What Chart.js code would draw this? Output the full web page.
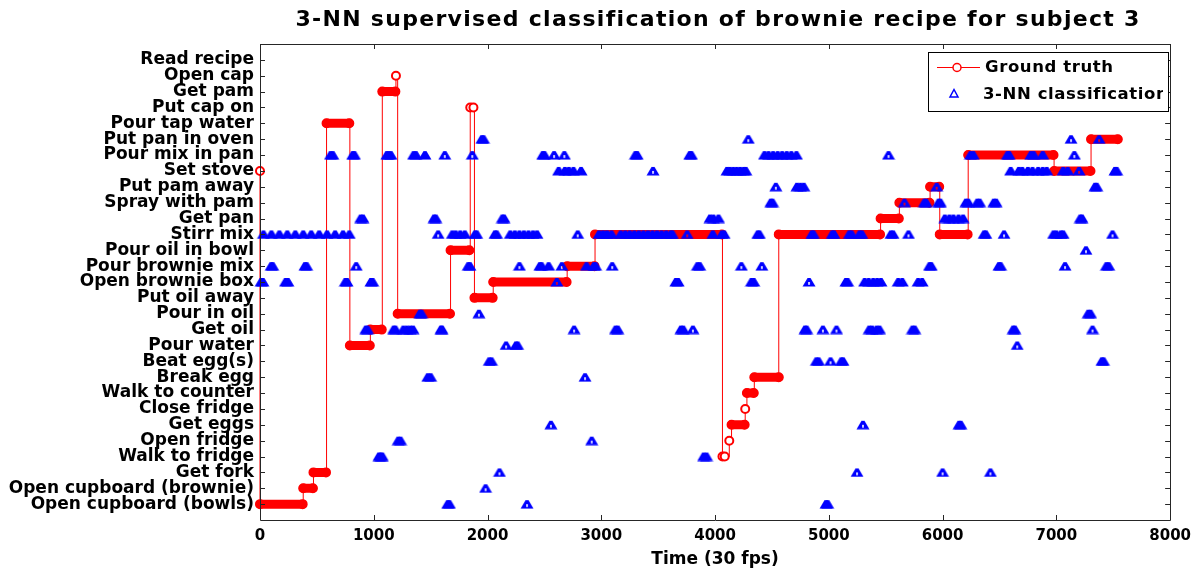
<!DOCTYPE html>
<html>
<head>
<meta charset="utf-8">
<script src="https://cdn.jsdelivr.net/npm/chart.js@4.4.0/dist/chart.umd.min.js"></script>
<style>
  html, body { margin: 0; padding: 0; background: #fff; }
  #wrap { width: 1198px; height: 573px; position: relative; }
</style>
</head>
<body>
<div id="wrap"><canvas id="chart"></canvas></div>
<script>
// activity names, class 1 at the bottom
const activities = [
  'Open cupboard (bowls)', 'Open cupboard (brownie)', 'Get fork', 'Walk to fridge',
  'Open fridge', 'Get eggs', 'Close fridge', 'Walk to counter', 'Break egg',
  'Beat egg(s)', 'Pour water', 'Get oil', 'Pour in oil', 'Put oil away',
  'Open brownie box', 'Pour brownie mix', 'Pour oil in bowl', 'Stirr mix',
  'Get pan', 'Spray with pam', 'Put pam away', 'Set stove', 'Pour mix in pan',
  'Put pan in oven', 'Pour tap water', 'Put cap on', 'Get pam', 'Open cap', 'Read recipe'
];
const xTicks = [0, 1000, 2000, 3000, 4000, 5000, 6000, 7000, 8000];

// ground truth segments (frames) and class
const gtStart = [0, 0, 380, 470, 585, 790, 970, 1075, 1195, 1210, 1675, 1848, 1885, 2050, 2700, 2945, 4065, 4125, 4145, 4265, 4280, 4345, 4560, 5455, 5620, 5890, 5975, 6225, 6980, 7305];
const gtEnd   = [0, 375, 465, 580, 785, 965, 1070, 1190, 1195, 1670, 1840, 1876, 2045, 2695, 2940, 4060, 4085, 4125, 4260, 4265, 4340, 4560, 5450, 5615, 5885, 5970, 6220, 6975, 7300, 7540];
const gtClass = [22, 1, 2, 3, 25, 11, 12, 27, 28, 13, 17, 26, 14, 15, 16, 18, 4, 5, 6, 7, 8, 9, 18, 19, 20, 21, 18, 23, 22, 24];

// 3-NN classified frames, one list per class (index = class - 1)
const nnFramesByClass = [
  [1650, 1665, 2347, 4975, 4990],                                   // Open cupboard (bowls)
  [1983],                                                           // Open cupboard (brownie)
  [2105, 5248, 6000, 6420],                                         // Get fork
  [1045, 1060, 1075, 3900, 3925],                                   // Walk to fridge
  [1215, 1235, 2916],                                               // Open fridge
  [2557, 5300, 6145, 6160],                                         // Get eggs
  [],                                                               // Close fridge
  [],                                                               // Walk to counter
  [1475, 1500, 2857],                                               // Break egg
  [2015, 2035, 4890, 4910, 5015, 5110, 5125, 7400, 7415],           // Beat egg(s)
  [2163, 2250, 2265, 6656],                                         // Pour water
  [930, 945, 1175, 1190, 1260, 1290, 1320, 1345, 1590, 1600, 2761, 3125, 3145, 3700, 3720, 3805,
   4790, 4805, 4948, 5067, 5355, 5380, 5420, 5445, 5735, 5755, 6620, 6635, 7318], // Get oil
  [1405, 1420, 1924, 7280, 7300],                                   // Pour in oil
  [],                                                               // Put oil away
  [10, 25, 225, 245, 750, 765, 975, 990, 2609, 3655, 3675, 4320, 4340, 4826, 5150, 5165,
   5315, 5350, 5390, 5425, 5458, 5610, 5645, 5785, 5820],            // Open brownie box
  [98, 112, 395, 410, 846, 1830, 1845, 2280, 2460, 2475, 2537, 2653, 2870, 2935, 2950, 3096,
   3845, 3865, 4231, 4411, 5885, 5900, 6495, 6510, 7076, 7440, 7460], // Pour brownie mix
  [7260],                                                           // Pour oil in bowl
  [30, 100, 170, 240, 310, 380, 450, 520, 590, 660, 730, 785, 1566, 1690, 1720, 1760, 1800,
   1890, 1905, 2065, 2080, 2200, 2240, 2280, 2320, 2360, 2400, 2435, 2793, 2980, 3015, 3050,
   3090, 3170, 3210, 3250, 3290, 3330, 3370, 3410, 3450, 3490, 3530, 3570, 3610, 3625, 3755,
   3980, 4060, 4080, 4375, 4390, 4850, 4865, 5030, 5045, 5180, 5200, 5270, 5290, 5545, 5565,
   5700, 6365, 6380, 6540, 6975, 7000, 7040, 7060, 7494],            // Stirr mix
  [885, 905, 1530, 1545, 2130, 2145, 3955, 3985, 4030, 6020, 6060, 6095, 6140, 6180, 7210, 7225], // Get pan
  [4490, 4505, 5665, 5840, 5855, 5965, 5980, 6205, 6225, 6305, 6325, 6450, 6470], // Spray with pam
  [4534, 4720, 4750, 4780, 5948, 7340, 7355],                       // Put pam away
  [2625, 2680, 2715, 2755, 2822, 3455, 4105, 4130, 4160, 4190, 4220, 4250, 4270, 6598, 6670,
   6700, 6750, 6790, 6840, 6880, 6915, 7060, 7100, 7200, 7515, 7530], // Set stove
  [620, 640, 815, 830, 1115, 1130, 1150, 1350, 1370, 1450, 1624, 1866, 2485, 2500, 2585, 2675,
   3300, 3315, 3778, 3792, 4435, 4470, 4510, 4550, 4590, 4630, 4670, 4715, 5525, 6245, 6270,
   6570, 6585, 6775, 6800, 6880, 7158],                              // Pour mix in pan
  [1950, 1965, 4292, 7129, 7376],                                   // Put pan in oven
  [], [], [], [], []                                                // Pour tap water .. Read recipe
];

const RED = '#ff0000';
const BLUE = '#0000ff';
const FONT = "'DejaVu Sans', sans-serif";

// thin step line through every segment, hollow circle markers
const gtLine = [];
const gtBand = [];
for (let i = 0; i < gtStart.length; i++) {
  gtLine.push({ x: gtStart[i], y: gtClass[i] });
  if (gtEnd[i] !== gtStart[i]) gtLine.push({ x: gtEnd[i], y: gtClass[i] });
  // long runs of markers merge into a solid band
  if (gtEnd[i] - gtStart[i] > 40) {
    gtBand.push({ x: gtStart[i], y: gtClass[i] });
    gtBand.push({ x: gtEnd[i], y: gtClass[i] });
    gtBand.push({ x: gtEnd[i], y: null });
  }
}

// a classified frame with a neighbour close by is part of a solid run
const nnPoints = [];
nnFramesByClass.forEach(function(frames, k) {
  frames.forEach(function(f) {
    const crowded = frames.some(function(g) { return g !== f && Math.abs(g - f) <= 80; });
    nnPoints.push({ x: f, y: k + 1, crowded: crowded });
  });
});

// heavy triangle marker; the open one keeps a small slit inside
function triangleMarker(open) {
  const c = document.createElement('canvas');
  c.width = 14; c.height = 10;
  const g = c.getContext('2d');
  g.fillStyle = BLUE;
  g.beginPath();
  g.moveTo(5.5, 1); g.lineTo(8.5, 1); g.lineTo(13.5, 9.5); g.lineTo(0.5, 9.5); g.closePath();
  g.fill();
  if (open) {
    g.globalCompositeOperation = 'destination-out';
    g.fillRect(6.2, 5, 1.6, 2.8);
  }
  return c;
}
const triOpen = triangleMarker(true);
const triSolid = triangleMarker(false);

// box, inward ticks, title and legend drawn like the original figure
const framePlugin = {
  id: 'frame',
  afterDraw(chart) {
    const ctx = chart.ctx;
    const a = chart.chartArea;
    const xs = chart.scales.x, ys = chart.scales.y;
    ctx.save();
    ctx.strokeStyle = '#262626';
    ctx.lineWidth = 1;
    ctx.beginPath();
    ctx.rect(Math.round(a.left) + 0.5, Math.round(a.top) + 0.5, Math.round(a.right - a.left), Math.round(a.bottom - a.top));
    ctx.stroke();
    const tl = 5;
    ctx.beginPath();
    xTicks.forEach(function(v) {
      const px = Math.round(xs.getPixelForValue(v)) + 0.5;
      ctx.moveTo(px, a.bottom); ctx.lineTo(px, a.bottom - tl);
      ctx.moveTo(px, a.top); ctx.lineTo(px, a.top + tl);
    });
    for (let k = 1; k <= activities.length; k++) {
      const py = Math.round(ys.getPixelForValue(k)) + 0.5;
      ctx.moveTo(a.left, py); ctx.lineTo(a.left + tl, py);
      ctx.moveTo(a.right, py); ctx.lineTo(a.right - tl, py);
    }
    ctx.stroke();

    // title
    ctx.fillStyle = '#000';
    ctx.font = 'bold 22px ' + FONT;
    ctx.textAlign = 'center';
    ctx.textBaseline = 'middle';
    ctx.letterSpacing = '1.3px';
    ctx.fillText('3-NN supervised classification of brownie recipe for subject 3', (a.left + a.right) / 2 + 3, 20);
    ctx.letterSpacing = '0px';

    // legend box in the upper right corner
    const bx = 928, by = 52, bw = 240, bh = 59;
    ctx.fillStyle = '#fff';
    ctx.fillRect(bx, by, bw, bh);
    ctx.strokeStyle = '#000';
    ctx.strokeRect(bx + 0.5, by + 0.5, bw, bh);
    ctx.beginPath();
    ctx.rect(bx + 1, by + 1, bw - 6, bh - 1);
    ctx.clip();
    ctx.strokeStyle = RED;
    ctx.lineWidth = 1;
    ctx.beginPath();
    ctx.moveTo(937, 67.5); ctx.lineTo(980, 67.5);
    ctx.stroke();
    ctx.lineWidth = 1.5;
    ctx.beginPath();
    ctx.arc(957, 67.5, 4, 0, Math.PI * 2);
    ctx.fillStyle = '#fff';
    ctx.fill();
    ctx.stroke();
    // legend marker: plain open triangle
    ctx.strokeStyle = BLUE;
    ctx.lineWidth = 1.5;
    ctx.beginPath();
    ctx.moveTo(954, 89.5); ctx.lineTo(950, 97); ctx.lineTo(958, 97); ctx.closePath();
    ctx.stroke();
    ctx.fillStyle = '#000';
    ctx.font = 'bold 16.5px ' + FONT;
    ctx.textAlign = 'left';
    ctx.letterSpacing = '0.6px';
    ctx.fillText('Ground truth', 985, 68);
    ctx.fillText('3-NN classification', 983, 95);
    ctx.restore();
  }
};

new Chart(document.getElementById('chart'), {
  type: 'scatter',
  data: {
    datasets: [
      {
        label: 'Ground truth',
        data: gtLine,
        showLine: true,
        stepped: 'before',
        borderColor: RED,
        borderWidth: 1,
        pointStyle: 'circle',
        pointRadius: 4,
        pointBorderWidth: 2,
        pointBorderColor: RED,
        pointBackgroundColor: '#fff',
        clip: false,
        order: 3
      },
      {
        label: 'gt band',
        data: gtBand,
        showLine: true,
        spanGaps: false,
        borderColor: RED,
        borderWidth: 9,
        borderCapStyle: 'round',
        pointRadius: 0,
        clip: false,
        order: 2
      },
      {
        label: '3-NN classification',
        data: nnPoints,
        pointStyle: function(c) {
          const p = nnPoints[c.dataIndex];
          return p && p.crowded ? triSolid : triOpen;
        },
        pointRadius: 5,
        clip: false,
        order: 1
      }
    ]
  },
  options: {
    responsive: true,
    maintainAspectRatio: false,
    animation: false,
    events: [],
    layout: { padding: { top: 44, right: 24, left: 0, bottom: 0 } },
    plugins: {
      legend: { display: false },
      tooltip: { enabled: false },
      title: { display: false }
    },
    scales: {
      x: {
        type: 'linear',
        min: 0,
        max: 8000,
        afterBuildTicks: function(scale) { scale.ticks = xTicks.map(function(v) { return { value: v }; }); },
        afterFit: function(scale) { scale.height = 53; },
        grid: { display: false, drawTicks: false },
        border: { display: false },
        ticks: {
          color: '#000',
          padding: 7,
          maxRotation: 0,
          autoSkip: false,
          font: { family: FONT, size: 15, weight: 'bold' },
          callback: function(v) { return String(v); }
        },
        title: {
          display: true,
          text: 'Time (30 fps)',
          color: '#000',
          padding: { top: 0, bottom: 3 },
          font: { family: FONT, size: 17, weight: 'bold' }
        }
      },
      y: {
        type: 'linear',
        min: 0,
        max: 30,
        afterFit: function(scale) { scale.width = 260; },
        grid: { display: false, drawTicks: false },
        border: { display: false },
        ticks: {
          stepSize: 1,
          autoSkip: false,
          color: '#000',
          padding: 6,
          font: { family: FONT, size: 17, weight: 'bold' },
          callback: function(v) { return activities[v - 1] || ''; }
        }
      }
    }
  },
  plugins: [framePlugin]
});
</script>
</body>
</html>
